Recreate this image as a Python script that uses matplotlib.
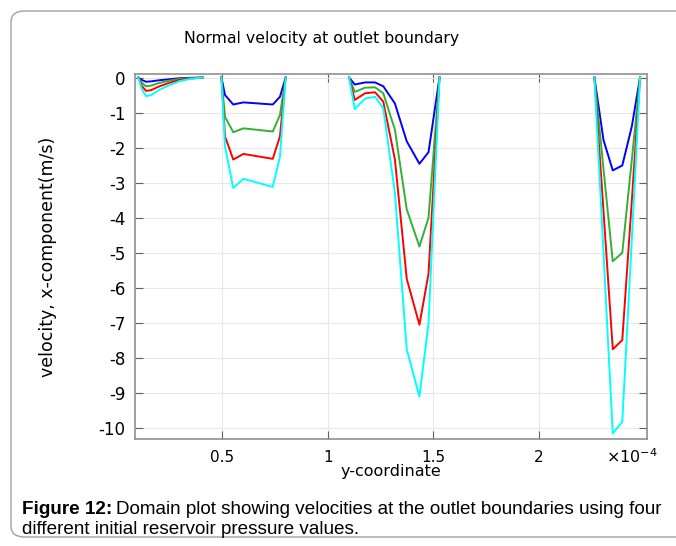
import numpy as np
import matplotlib
matplotlib.use("Agg")
import matplotlib.pyplot as plt
from matplotlib.patches import FancyBboxPatch
from matplotlib.transforms import offset_copy

nan = np.nan

# y-coordinate (x1e-4 m) along the four outlet segments, NaN breaks between segments
y_coord = [0.104, 0.12, 0.14, 0.165, 0.2, 0.25, 0.3, 0.35, 0.41, nan,
           0.497, 0.514, 0.553, 0.601, 0.740, 0.774, 0.801, nan,
           1.101, 1.128, 1.177, 1.224, 1.263, 1.318, 1.374, 1.434, 1.477, 1.529, nan,
           2.262, 2.305, 2.349, 2.394, 2.439, 2.478]

# x-velocity (m/s) for the four initial reservoir pressures
u_p1 = [0, -0.07, -0.12, -0.11, -0.08, -0.05, -0.02, -0.01, 0, nan,
        0, -0.5, -0.77, -0.71, -0.77, -0.55, 0, nan,
        0, -0.2, -0.14, -0.14, -0.25, -0.74, -1.82, -2.46, -2.13, 0, nan,
        0, -1.78, -2.65, -2.51, -1.40, 0]
u_p2 = [0, -0.15, -0.25, -0.23, -0.16, -0.09, -0.04, -0.02, 0, nan,
        0, -1.12, -1.56, -1.45, -1.54, -1.07, 0, nan,
        0, -0.41, -0.29, -0.28, -0.45, -1.49, -3.76, -4.82, -4.0, 0, nan,
        0, -2.6, -5.24, -5.0, -2.36, 0]
u_p3 = [0, -0.24, -0.38, -0.36, -0.26, -0.15, -0.07, -0.03, 0, nan,
        0, -1.68, -2.34, -2.18, -2.32, -1.68, 0, nan,
        0, -0.64, -0.45, -0.42, -0.69, -2.34, -5.74, -7.05, -5.6, 0, nan,
        0, -3.8, -7.75, -7.49, -3.53, 0]
u_p4 = [0, -0.33, -0.53, -0.5, -0.36, -0.22, -0.1, -0.04, 0, nan,
        0, -1.97, -3.15, -2.89, -3.12, -2.25, 0, nan,
        0, -0.9, -0.6, -0.55, -0.88, -3.29, -7.75, -9.1, -7.02, 0, nan,
        0, -4.98, -10.15, -9.82, -4.64, 0]

x_ticks = [0.5, 1, 1.5, 2]
x_ticklabels = ["0.5", "1", "1.5", "2"]
y_ticks = list(range(0, -11, -1))

plt.rcParams['axes.unicode_minus'] = False
plt.rcParams['font.family'] = 'DejaVu Sans'

fig = plt.figure(figsize=(6.76, 5.46), dpi=100)

# rounded frame around the figure and caption
frame = FancyBboxPatch((11/676, 1 - 537/546), 700/676, (537 - 11)/546,
                       boxstyle="round,pad=0,rounding_size=0.02",
                       transform=fig.transFigure, fill=False,
                       edgecolor='#a0a0a0', linewidth=1.0)
fig.patches.append(frame)

ax = fig.add_axes([135/676, 1 - 439/546, (647 - 135)/676, (439 - 74)/546])

ax.plot(y_coord, u_p1, color='#0000ff', lw=1.4)
ax.plot(y_coord, u_p2, color='#33b033', lw=1.4)
ax.plot(y_coord, u_p3, color='#ff0000', lw=1.4)
ax.plot(y_coord, u_p4, color='#00ffff', lw=1.4)

ax.set_xlim(0.088, 2.511)
ax.set_ylim(-10.31, 0.1)
ax.set_xticks(x_ticks)
ax.set_xticklabels(x_ticklabels)
ax.set_yticks(y_ticks)
ax.grid(True, color='#e8e8e8', lw=0.8)
ax.set_axisbelow(True)
ax.tick_params(direction='in', length=6, width=0.8, color='#606060',
               top=True, right=True, labelsize=12, pad=7)
ax.tick_params(axis='x', labelsize=11, pad=8)
for s in ax.spines.values():
    s.set_color('#909090')
    s.set_linewidth(1.2)

ax.set_xlabel('y-coordinate', fontsize=11.5, labelpad=-1)
ax.set_ylabel('velocity, x-component(m/s)', fontsize=12.5)
ax.yaxis.set_label_coords(-0.153, 0.5)
fig.text(632/676, 1 - 457/546, r'$\times10^{-4}$', fontsize=11.5,
         ha='center', va='center')

fig.text(322/676, 1 - 39/546, 'Normal velocity at outlet boundary',
         fontsize=11.3, ha='center', va='center')

# caption: bold lead-in followed by plain text on the same line
cap = fig.text(22/676, 1 - 509/546, 'Figure 12:', fontsize=13.6,
               fontweight='bold', family='Liberation Sans',
               ha='left', va='center')
fig.canvas.draw()
w = cap.get_window_extent().width
fig.text(22/676, 1 - 509/546,
         'Domain plot showing velocities at the outlet boundaries using four',
         fontsize=13.6, family='Liberation Sans', ha='left', va='center',
         transform=offset_copy(fig.transFigure, fig=fig, x=w + 4, units='dots'))
fig.text(22/676, 1 - 529/546, 'different initial reservoir pressure values.',
         fontsize=13.6, family='Liberation Sans', ha='left', va='center')

fig.savefig('out.png', dpi=100)
